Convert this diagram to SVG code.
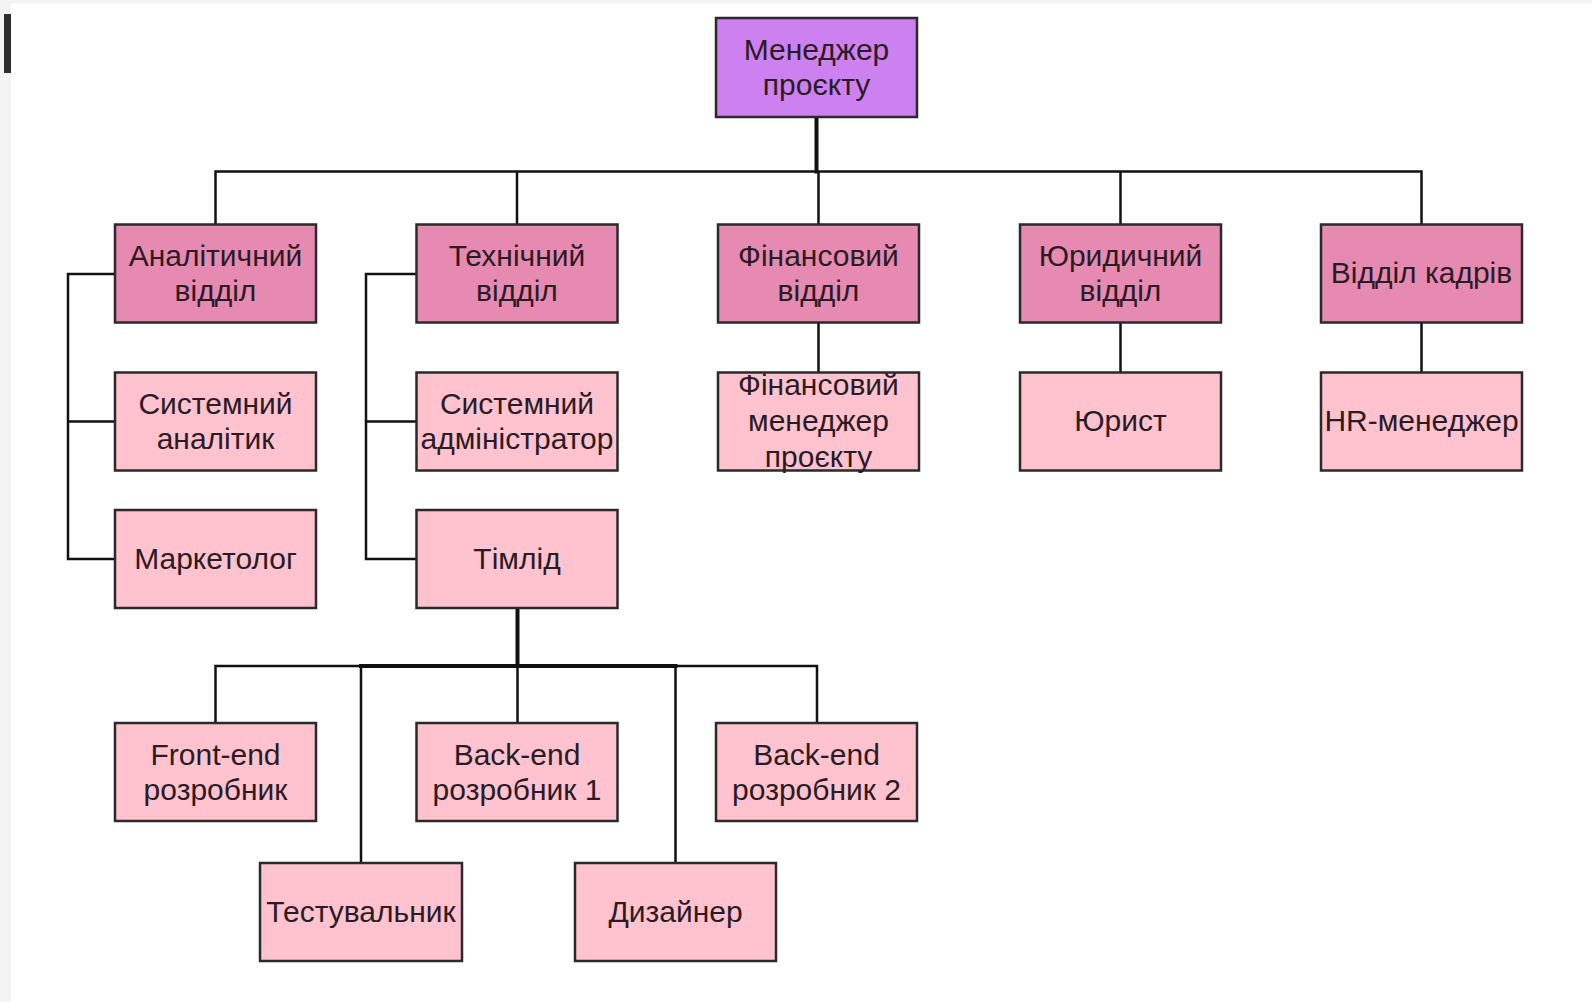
<svg xmlns="http://www.w3.org/2000/svg" width="1592" height="1002" viewBox="0 0 1592 1002">
<style>
.box{stroke:#2a2a2a;stroke-width:2.5}
.top{fill:#cd80f0}
.dept{fill:#e68ab1}
.leaf{fill:#ffc3cf}
.t{font-family:"Liberation Sans",Arial,sans-serif;font-size:30px;fill:#2b1b24;text-anchor:middle}
.c{fill:none;stroke:#111;stroke-width:2.5;stroke-linecap:square}
.thick{stroke-width:4}
</style>
<rect x="0" y="0" width="1592" height="1002" fill="#ffffff"/>
<rect x="0" y="0" width="1592" height="3" fill="#f3f3f3"/>
<rect x="0" y="0" width="11" height="1002" fill="#f3f3f3"/>
<rect x="4" y="14" width="7" height="59" fill="#2d2d2d"/>
<g id="connectors">
<path class="c thick" d="M816.5 117V171.5"/>
<path class="c" d="M215.5 224.5V171.5H1421.5V224.5M517 171.5V224.5M818.5 171.5V224.5M1120.5 171.5V224.5"/>
<path class="c" d="M818.5 322.5V372.5M1120.5 322.5V372.5M1421.5 322.5V372.5"/>
<path class="c" d="M115 274H68V559H115M68 421.5H115"/>
<path class="c" d="M416.5 274H366V559H416.5M366 421.5H416.5"/>
<path class="c thick" d="M517.5 608V666"/>
<path class="c" d="M215.5 723V666H817V723M517.5 666V723M361 666V863M675.5 666V863"/>
<path class="c thick" d="M361 666H675.5"/>
</g>
<g id="n-manager"><rect class="box top" x="716" y="18" width="201" height="99"/><text class="t" x="816.5" y="60">Менеджер</text><text class="t" x="816.5" y="95">проєкту</text></g>
<g id="n-analytic"><rect class="box dept" x="115" y="224.5" width="201" height="98"/><text class="t" x="215.5" y="266">Аналітичний</text><text class="t" x="215.5" y="301">відділ</text></g>
<g id="n-tech"><rect class="box dept" x="416.5" y="224.5" width="201" height="98"/><text class="t" x="517" y="266">Технічний</text><text class="t" x="517" y="301">відділ</text></g>
<g id="n-fin"><rect class="box dept" x="718" y="224.5" width="201" height="98"/><text class="t" x="818.5" y="266">Фінансовий</text><text class="t" x="818.5" y="301">відділ</text></g>
<g id="n-legal"><rect class="box dept" x="1020" y="224.5" width="201" height="98"/><text class="t" x="1120.5" y="266">Юридичний</text><text class="t" x="1120.5" y="301">відділ</text></g>
<g id="n-hr"><rect class="box dept" x="1321" y="224.5" width="201" height="98"/><text class="t" x="1421.5" y="283">Відділ кадрів</text></g>
<g id="n-sysanalyst"><rect class="box leaf" x="115" y="372.5" width="201" height="98"/><text class="t" x="215.5" y="414">Системний</text><text class="t" x="215.5" y="449">аналітик</text></g>
<g id="n-sysadmin"><rect class="box leaf" x="416.5" y="372.5" width="201" height="98"/><text class="t" x="517" y="414">Системний</text><text class="t" x="517" y="449">адміністратор</text></g>
<g id="n-finmanager"><rect class="box leaf" x="718" y="372.5" width="201" height="98"/><text class="t" x="818.5" y="395">Фінансовий</text><text class="t" x="818.5" y="431">менеджер</text><text class="t" x="818.5" y="467">проєкту</text></g>
<g id="n-lawyer"><rect class="box leaf" x="1020" y="372.5" width="201" height="98"/><text class="t" x="1120.5" y="431">Юрист</text></g>
<g id="n-hrmanager"><rect class="box leaf" x="1321" y="372.5" width="201" height="98"/><text class="t" x="1421.5" y="431">HR-менеджер</text></g>
<g id="n-marketer"><rect class="box leaf" x="115" y="510" width="201" height="98"/><text class="t" x="215.5" y="569">Маркетолог</text></g>
<g id="n-teamlead"><rect class="box leaf" x="416.5" y="510" width="201" height="98"/><text class="t" x="517" y="569">Тімлід</text></g>
<g id="n-frontend"><rect class="box leaf" x="115" y="723" width="201" height="98"/><text class="t" x="215.5" y="764.5">Front-end</text><text class="t" x="215.5" y="799.5">розробник</text></g>
<g id="n-backend1"><rect class="box leaf" x="416.5" y="723" width="201" height="98"/><text class="t" x="517" y="764.5">Back-end</text><text class="t" x="517" y="799.5">розробник 1</text></g>
<g id="n-backend2"><rect class="box leaf" x="716" y="723" width="201" height="98"/><text class="t" x="816.5" y="764.5">Back-end</text><text class="t" x="816.5" y="799.5">розробник 2</text></g>
<g id="n-tester"><rect class="box leaf" x="260" y="863" width="202" height="98"/><text class="t" x="361" y="922">Тестувальник</text></g>
<g id="n-designer"><rect class="box leaf" x="575" y="863" width="201" height="98"/><text class="t" x="675.5" y="922">Дизайнер</text></g>
</svg>
